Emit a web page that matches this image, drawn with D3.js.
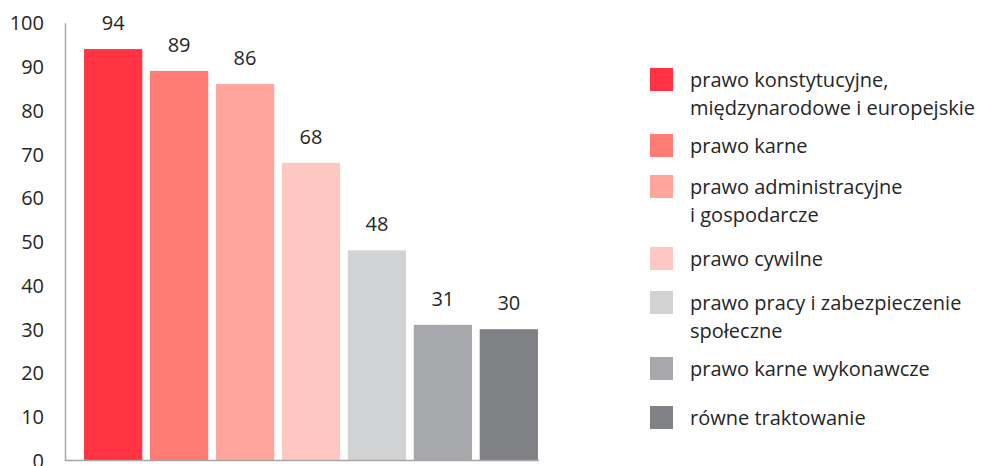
<!DOCTYPE html>
<html><head><meta charset="utf-8">
<script src="https://cdn.jsdelivr.net/npm/d3@7"></script>
<style>body{margin:0;background:#fff}svg{display:block}</style>
</head><body>
<svg id="c" width="992" height="466"></svg>
<script>
const categories = ["prawo konstytucyjne, międzynarodowe i europejskie","prawo karne","prawo administracyjne i gospodarcze","prawo cywilne","prawo pracy i zabezpieczenie społeczne","prawo karne wykonawcze","równe traktowanie"];
const legendLines = [["prawo konstytucyjne,","międzynarodowe i europejskie"],["prawo karne"],["prawo administracyjne","i gospodarcze"],["prawo cywilne"],["prawo pracy i zabezpieczenie","społeczne"],["prawo karne wykonawcze"],["równe traktowanie"]];
const values = [94, 89, 86, 68, 48, 31, 30];
const colors = ["#FF3341","#FF7B73","#FFA59C","#FFC7C2","#D1D2D4","#A7A8AC","#808184"];
const yTicks = [0,10,20,30,40,50,60,70,80,90,100];

const FONT = "'Open Sans', sans-serif";
const TXT = "#262626";
const svg = d3.select("#c");
const y = d3.scaleLinear().domain([0,100]).range([460.5, 22.8]);
const x = d3.scaleBand().domain(categories).range([80.2, 541.8]).paddingInner(0.117).paddingOuter(0.0585);

// bars
svg.selectAll("rect.bar").data(values).join("rect")
  .attr("x",(d,i)=>x(categories[i])).attr("width",x.bandwidth())
  .attr("y",d=>y(d)).attr("height",d=>y(0)-y(d)).attr("fill",(d,i)=>colors[i]);

// value labels
svg.selectAll("text.val").data(values).join("text")
  .attr("x",(d,i)=>x(categories[i])+x.bandwidth()/2).attr("y",d=>y(d)-19)
  .attr("text-anchor","middle").attr("font-family",FONT).attr("font-size",20).attr("fill",TXT)
  .text(d=>d);

// y axis
const ya = svg.append("g").attr("transform","translate(65,0)")
  .call(d3.axisLeft(y).tickValues(yTicks).tickSize(0).tickPadding(21));
ya.select(".domain").attr("stroke","#A6A6A6").attr("stroke-width",1.5);
ya.selectAll("text").attr("font-family",FONT).attr("font-size",20).attr("fill",TXT).attr("dy","0.35em");

// x axis baseline
svg.append("line").attr("x1",65).attr("x2",539).attr("y1",y(0)).attr("y2",y(0))
  .attr("stroke","#A6A6A6").attr("stroke-width",1.5);

// legend
const swatchY = [68,134,175,247,291,357,406];
const lg = svg.append("g");
legendLines.forEach((lines,i)=>{
  lg.append("rect").attr("x",650).attr("y",swatchY[i]).attr("width",23).attr("height",23).attr("fill",colors[i]);
  lines.forEach((t,j)=>{
    lg.append("text").attr("x",690).attr("y",swatchY[i]+19+j*28)
      .attr("font-family",FONT).attr("font-size",20).attr("fill",TXT).text(t);
  });
});
</script>
</body></html>
